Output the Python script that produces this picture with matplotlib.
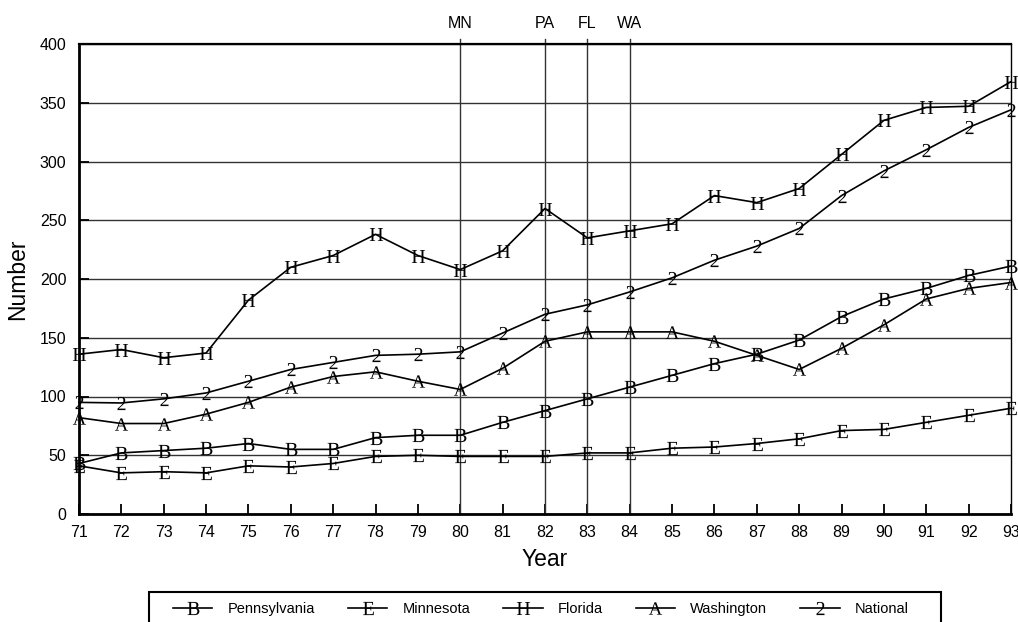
import matplotlib
matplotlib.use("Agg")
import matplotlib.pyplot as plt
from matplotlib.patches import Rectangle

plt.rcParams['font.family'] = ['Liberation Sans', 'DejaVu Sans']
plt.rcParams['mathtext.fontset'] = 'custom'
plt.rcParams['mathtext.rm'] = 'Liberation Serif'

# data
years = list(range(71, 94))
pennsylvania = [43, 52, 54, 56, 60, 55, 55, 65, 67, 67, 78, 88, 98, 108, 118, 128, 136, 148, 168, 183, 192, 203, 211]
minnesota = [41, 35, 36, 35, 41, 40, 43, 49, 50, 49, 49, 49, 52, 52, 56, 57, 60, 64, 71, 72, 78, 84, 90]
florida = [136, 140, 133, 137, 182, 210, 220, 238, 220, 208, 224, 260, 235, 241, 247, 271, 265, 277, 306, 335, 346, 347, 368]
washington = [82, 77, 77, 85, 95, 108, 117, 121, 113, 106, 124, 147, 155, 155, 155, 147, 135, 123, 141, 161, 183, 192, 197]
national = [95, 94.5, 98, 103, 113, 123, 129, 135, 136, 138, 154, 170, 178, 189, 201, 216, 228, 243, 271, 292, 310, 329, 344]

series = [
    ("Pennsylvania", "B", pennsylvania),
    ("Minnesota", "E", minnesota),
    ("Florida", "H", florida),
    ("Washington", "A", washington),
    ("National", "2", national),
]

event_years = [80, 82, 83, 84]
event_labels = ["MN", "PA", "FL", "WA"]

W, H = 1018, 622
fig = plt.figure(figsize=(W / 100, H / 100), dpi=100)
ax = fig.add_axes([79 / W, 1 - 514 / H, (1011 - 79) / W, (514 - 44) / H])

handles = []
for name, letter, vals in series:
    ln, = ax.plot(years, vals, color='black', lw=1.2,
                  marker=r'$\mathrm{%s}$' % letter, markersize=9.5,
                  markerfacecolor='black', markeredgewidth=0,
                  label=name, clip_on=False, zorder=3)
    handles.append(ln)

ax.set_xlim(71, 93)
ax.set_ylim(0, 400)
ax.set_xticks(years)
ax.set_xticklabels([str(y) for y in years])
ax.set_yticks(range(0, 401, 50))

ax.yaxis.grid(True, color='#333333', lw=1)
ax.set_axisbelow(True)

# vertical event lines with labels above the plot
for yr, lab in zip(event_years, event_labels):
    ax.axvline(yr, ymin=0, ymax=1 + 5 / 470, color='#333333', lw=1, clip_on=False, zorder=2)
    ax.text(yr, 1 + 21 / 470, lab, transform=ax.get_xaxis_transform(),
            ha='center', va='center', fontsize=11.5)

ax.tick_params(axis='both', direction='in', length=7, width=1.3, labelsize=11.5, colors='black')
ax.tick_params(axis='x', pad=8)
ax.tick_params(axis='y', pad=9)

for side in ['left', 'bottom']:
    ax.spines[side].set_linewidth(2)
ax.spines['top'].set_linewidth(1.6)
ax.spines['right'].set_linewidth(1)

ax.set_xlabel("Year", fontsize=16.5, labelpad=6)
ax.set_ylabel("Number", fontsize=16.5, labelpad=8)

# legend below, frame drawn by hand so it runs off the bottom edge
fig.legend(handles=handles, loc='center left', bbox_to_anchor=(173 / W, 1 - 609 / H),
           ncol=5, frameon=False, fontsize=10.5, numpoints=1,
           handlelength=2.7, handletextpad=1.05, columnspacing=2.25,
           borderpad=0, borderaxespad=0)
fig.patches.append(Rectangle((149 / W, -0.05), (941 - 149) / W, (1 - 592 / H) + 0.05,
                             transform=fig.transFigure, fill=False, lw=1.5, color='black'))

fig.savefig("out.png", dpi=100, facecolor='white')
